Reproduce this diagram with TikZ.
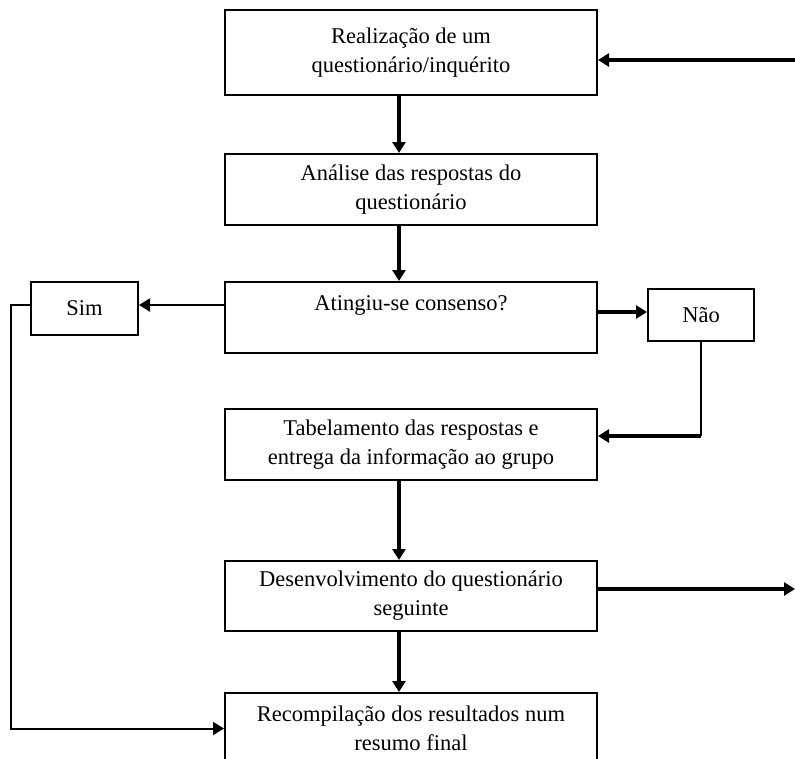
\documentclass[tikz,border=0pt]{standalone}
\usepackage{fontspec}
\setmainfont{Liberation Serif}
\usetikzlibrary{positioning,arrows.meta,calc}

\begin{document}
\begin{tikzpicture}[x=1pt,y=-1pt,
    stepbox/.style={draw,rectangle,line width=2pt,align=center,inner sep=0pt,
        minimum width=372pt,font=\fontsize{22.5}{29}\selectfont},
    smallbox/.style={draw,rectangle,line width=2pt,inner sep=0pt,
        minimum width=107pt,minimum height=53pt,font=\fontsize{22.5}{29}\selectfont},
    thickarrow/.style={line width=4pt,-{Triangle[length=11pt,width=13pt]}},
    thinarrow/.style={line width=2pt,-{Triangle[length=11pt,width=13pt]}},
    thinline/.style={line width=2pt}]
    \useasboundingbox (0,0) rectangle (795,758);
    % main column
    \node[stepbox,minimum height=85pt] (real) at (411,52.5) {Realização de um\\questionário/inquérito};
    \node[stepbox,minimum height=71pt] (anal) at (411,189.5) {Análise das respostas do\\questionário};
    \node[stepbox,minimum height=71pt] (ating) at (411,317.5) {Atingiu-se consenso?\\\mbox{}};
    \node[stepbox,minimum height=71pt] (tab) at (411,444.5) {Tabelamento das respostas e\\entrega da informação ao grupo};
    \node[stepbox,minimum height=70pt] (desen) at (411,596) {Desenvolvimento do questionário\\seguinte};
    \node[stepbox,minimum height=71pt] (recomp) at (411,728.5) {Recompilação dos resultados num\\resumo final};
    % answers
    \node[smallbox] (sim) at (84.5,308.5) {Sim};
    \node[smallbox,minimum width=106pt,minimum height=52pt] (nao) at (701,315) {Não};
    % loose ends at the right border
    \coordinate (rin) at (795,60);
    \coordinate (rout) at (795,589);
    \coordinate (naoin) at ([yshift=3pt]nao.west);
    \coordinate (tabin) at ([yshift=8.5pt]tab.east);
    \coordinate (simout) at ([yshift=3.5pt]sim.west);
    % connectors
    \draw[thickarrow] (rin) -- (real.east |- rin);
    \draw[thickarrow] ([xshift=-12pt]real.south) -- ([xshift=-12pt]anal.north);
    \draw[thickarrow] ([xshift=-12pt]anal.south) -- ([xshift=-12pt]ating.north);
    \draw[thinarrow] ([yshift=12.5pt]ating.west) -- ([yshift=12.5pt]ating.west -| sim.east);
    \draw[thickarrow] (naoin -| ating.east) -- (naoin);
    \draw[thinline] (nao.south) -- (nao.south |- tabin);
    \draw[thickarrow] (nao.south |- tabin) -- (tabin);
    \draw[thickarrow] ([xshift=-12pt]tab.south) -- ([xshift=-12pt]desen.north);
    \draw[thickarrow] (desen.east |- rout) -- (rout);
    \draw[thickarrow] ([xshift=-12pt]desen.south) -- ([xshift=-12pt]recomp.north);
    \draw[thinarrow] (simout) -- ++(-19,0) |- (recomp.west);
\end{tikzpicture}
\end{document}
